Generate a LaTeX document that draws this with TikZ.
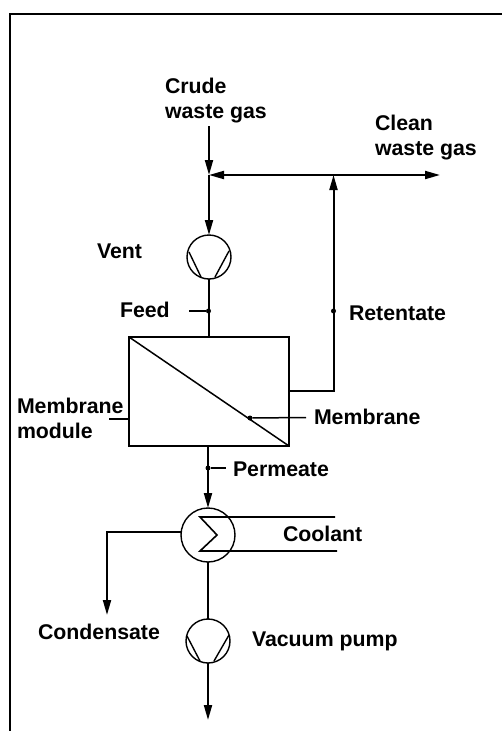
\documentclass[tikz,border=0pt]{standalone}
\usepackage{fontspec}
\setmainfont{Liberation Sans}
\usetikzlibrary{arrows.meta,calc}
\tikzset{
  lbl/.style={inner sep=0pt,outer sep=0pt,anchor=base west,align=left,font=\bfseries\fontsize{21.3}{25}\selectfont,text=black},
  pipe/.style={line width=2pt},
  flow/.style={pipe,-{Triangle[length=15pt,width=8pt]}},
  tick/.style={line width=1.5pt},
  equip/.style={draw,circle,line width=1.4pt,inner sep=0pt,outer sep=0pt},
  dot/.style={circle,fill=black,inner sep=0pt,outer sep=0pt,minimum size=5pt},
  vanes/.style={line width=1.4pt}
}
\begin{document}
\begin{tikzpicture}[x=1pt,y=-1pt]
\useasboundingbox (0,0) rectangle (502,731);
% frame
\draw[line width=2.5pt] (10,731) -- (10,14) -- (502,14);
% equipment
\node[equip,minimum size=44pt] (vent) at (209,257) {};
\node[equip,minimum size=54pt] (cooler) at (208,535) {};
\node[equip,minimum size=44pt] (pump) at (208,641) {};
\node[draw,line width=2.5pt,inner sep=0pt,outer sep=0pt,minimum width=160pt,minimum height=109pt] (module) at (209,391.5) {};
% membrane
\draw[line width=1.5pt] (module.north west) -- (module.south east);
% pump vanes
\draw[vanes] ($(vent.center)+(-20,-5)$) -- ($(vent.center)+(-8,20)$);
\draw[vanes] ($(vent.center)+(20,-6)$) -- ($(vent.center)+(6,20)$);
\draw[vanes] ($(pump.center)+(-21,-5)$) -- ($(pump.center)+(-8,20)$);
\draw[vanes] ($(pump.center)+(21,-6)$) -- ($(pump.center)+(6,20)$);
% coordinates
\coordinate (crudetop) at (209,126);
\coordinate (junction) at (209,175);
\coordinate (tee) at (333.5,175);
\coordinate (cleanend) at (440,175);
\coordinate (retfoot) at (333.5,391);
\coordinate (feedtick) at (189,311);
\coordinate (modtick) at (109,419);
\coordinate (memend) at (306,417.5);
\coordinate (permtick) at (226,468);
\coordinate (condcorner) at (107,532);
\coordinate (condend) at (107,615);
\coordinate (pumpout) at (208,720);
\coordinate (coolA) at (335,517);
\coordinate (coolB) at (337,551);
% dots
\node[dot] (dfeed) at (208.5,311) {};
\node[dot] (dret) at (333.5,311) {};
\node[dot] (dmem) at (250,418) {};
\node[dot] (dperm) at (208,468) {};
% connectors
\draw[flow] (crudetop) -- (junction);
\draw[flow] (junction) -- (vent.north);
\draw[pipe] (vent.south) -- (module.north);
\draw[pipe,{Triangle[length=15pt,width=8pt]}-{Triangle[length=15pt,width=8pt]}] (junction) -- (cleanend);
\draw[flow] (module.east |- retfoot) -- (retfoot) -- (tee);
\draw[tick] (feedtick) -- (dfeed);
\draw[tick] (modtick) -- (module.west |- modtick);
\draw[tick] (dmem) -- (memend);
\draw[tick] (dperm) -- (permtick);
\draw[flow] (cooler.north |- module.south) -- (cooler.north);
\draw[pipe] (cooler.south) -- (pump.north);
\draw[flow] (pump.south) -- (pumpout);
\draw[flow] (cooler.west |- condcorner) -- (condcorner) -- (condend);
\draw[line width=1.6pt,line join=miter] (coolA) -- (200,517) -- (217,535) -- (200,551) -- (coolB);
% labels
\node[lbl] (crude) at (165,118) {Crude\\waste gas};
\node[lbl] (clean) at (375,155) {Clean\\waste gas};
\node[lbl] at (97,258) {Vent};
\node[lbl] at (120,317) {Feed};
\node[lbl] at (349,320) {Retentate};
\node[lbl] (modl) at (17,438) {Membrane\\module};
\node[lbl] at (314,424) {Membrane};
\node[lbl] at (233,476) {Permeate};
\node[lbl] at (283,541) {Coolant};
\node[lbl] at (38,639) {Condensate};
\node[lbl] at (252,646) {Vacuum pump};
\end{tikzpicture}
\end{document}
